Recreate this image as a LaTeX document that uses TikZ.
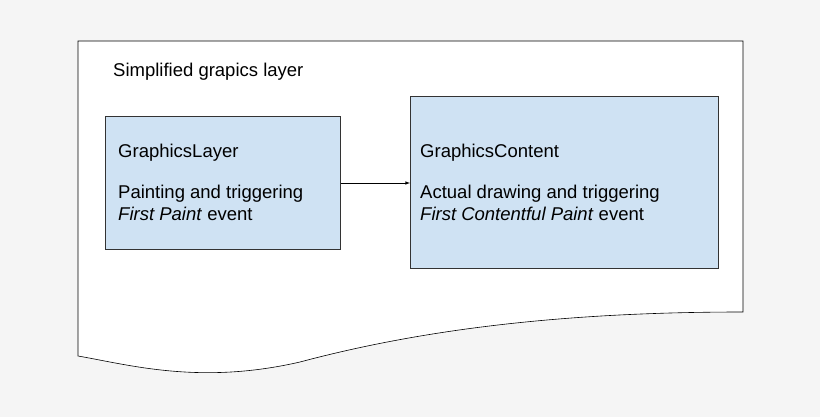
\documentclass[tikz,border=0pt]{standalone}
\usepackage{fontspec}
\setmainfont{Liberation Sans}
\definecolor{boxblue}{HTML}{CFE2F3}
\definecolor{bggray}{HTML}{F5F5F5}
\tikzset{
  layerbox/.style={draw=black!80, fill=boxblue, line width=0.8pt, anchor=north west},
  boxtext/.style={anchor=base west, inner sep=0pt, font=\fontsize{18.5}{22}\selectfont}
}
\begin{document}
\begin{tikzpicture}[x=1pt,y=-1pt]
\fill[bggray] (0,0) rectangle (820,417);
\useasboundingbox (0,0) rectangle (820,417);
% page with wavy bottom
\draw[fill=white, line width=0.6pt] (78,41) -- (743,41) -- (743,312)
  .. controls (560,312) and (420,330) .. (300,362)
  .. controls (200,385) and (130,365) .. (78,356) -- cycle;
\node[boxtext] (title) at (113,77) {Simplified grapics layer};
% boxes
\node[layerbox, minimum width=235pt, minimum height=133pt] (layer) at (105,116) {};
\node[layerbox, minimum width=308pt, minimum height=172pt] (content) at (410,96) {};
\node[boxtext] (l1) at (118,158) {GraphicsLayer};
\node[boxtext] (l2) at (118,199) {Painting and triggering};
\node[boxtext] (l3) at (118,221) {\textit{First Paint} event};
\node[boxtext] (c1) at (420,158) {GraphicsContent};
\node[boxtext] (c2) at (420,199) {Actual drawing and triggering};
\node[boxtext] (c3) at (420,221) {\textit{First Contentful Paint} event};
\draw[-latex, line width=0.6pt] (layer.east|-0,183) -- (content.west|-0,183);
\end{tikzpicture}
\end{document}
